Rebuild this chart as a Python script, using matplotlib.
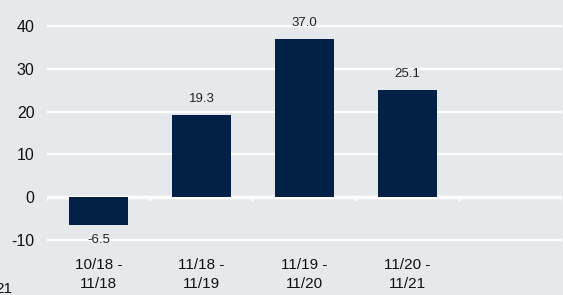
import matplotlib.pyplot as plt

# data
periods = ['10/18 -\n11/18', '11/18 -\n11/19', '11/19 -\n11/20', '11/20 -\n11/21', '']
values = [-6.5, 19.3, 37.0, 25.1]
labels = ['-6.5', '19.3', '37.0', '25.1']
yticks = [-10, 0, 10, 20, 30, 40]

bg = '#e6e9ec'
navy = '#032147'

plt.rcParams['font.family'] = ['Liberation Sans', 'DejaVu Sans']
plt.rcParams['axes.unicode_minus'] = False

fig = plt.figure(figsize=(5.63, 2.95), dpi=100, facecolor=bg)
ax = fig.add_axes([0.0835, 0.157, 0.9145, 0.813])
ax.set_facecolor(bg)

x = list(range(len(values)))
ax.bar(x, values, width=0.58, color=navy, zorder=3)

# value labels above / below bars
for i, v in enumerate(values):
    if v >= 0:
        ax.text(i, v + 2.3, labels[i], ha='center', va='bottom', fontsize=9.5, color='#222222')
    else:
        ax.text(i, v - 2.1, labels[i], ha='center', va='top', fontsize=9.5, color='#222222')

ax.set_xlim(-0.5, len(periods) - 0.5)
ax.set_ylim(-12, 44)
ax.set_yticks(yticks)
ax.yaxis.grid(True, color='white', linewidth=1.6, zorder=0)
ax.set_axisbelow(True)

# zero line with small notches between categories
ax.axhline(0, color='white', linewidth=2.5, zorder=2)
ax.vlines([b - 0.5 for b in range(len(periods) + 1)], -0.9, 0, color='white', linewidth=1.5, zorder=2)

ax.set_xticks(range(len(periods)))
ax.set_xticklabels(periods, fontsize=11, color='#111111', linespacing=1.45)
ax.tick_params(axis='x', length=0, pad=7)
ax.tick_params(axis='y', length=0, pad=9, labelsize=11.5, labelcolor='#111111')

for s in ax.spines.values():
    s.set_visible(False)

# cut-off text in the bottom-left corner (also cut off in the reference)
fig.text(0.022, -0.005, '21', ha='right', va='bottom', fontsize=11, color='#111111')

fig.savefig('out.png', dpi=100, facecolor=bg)
